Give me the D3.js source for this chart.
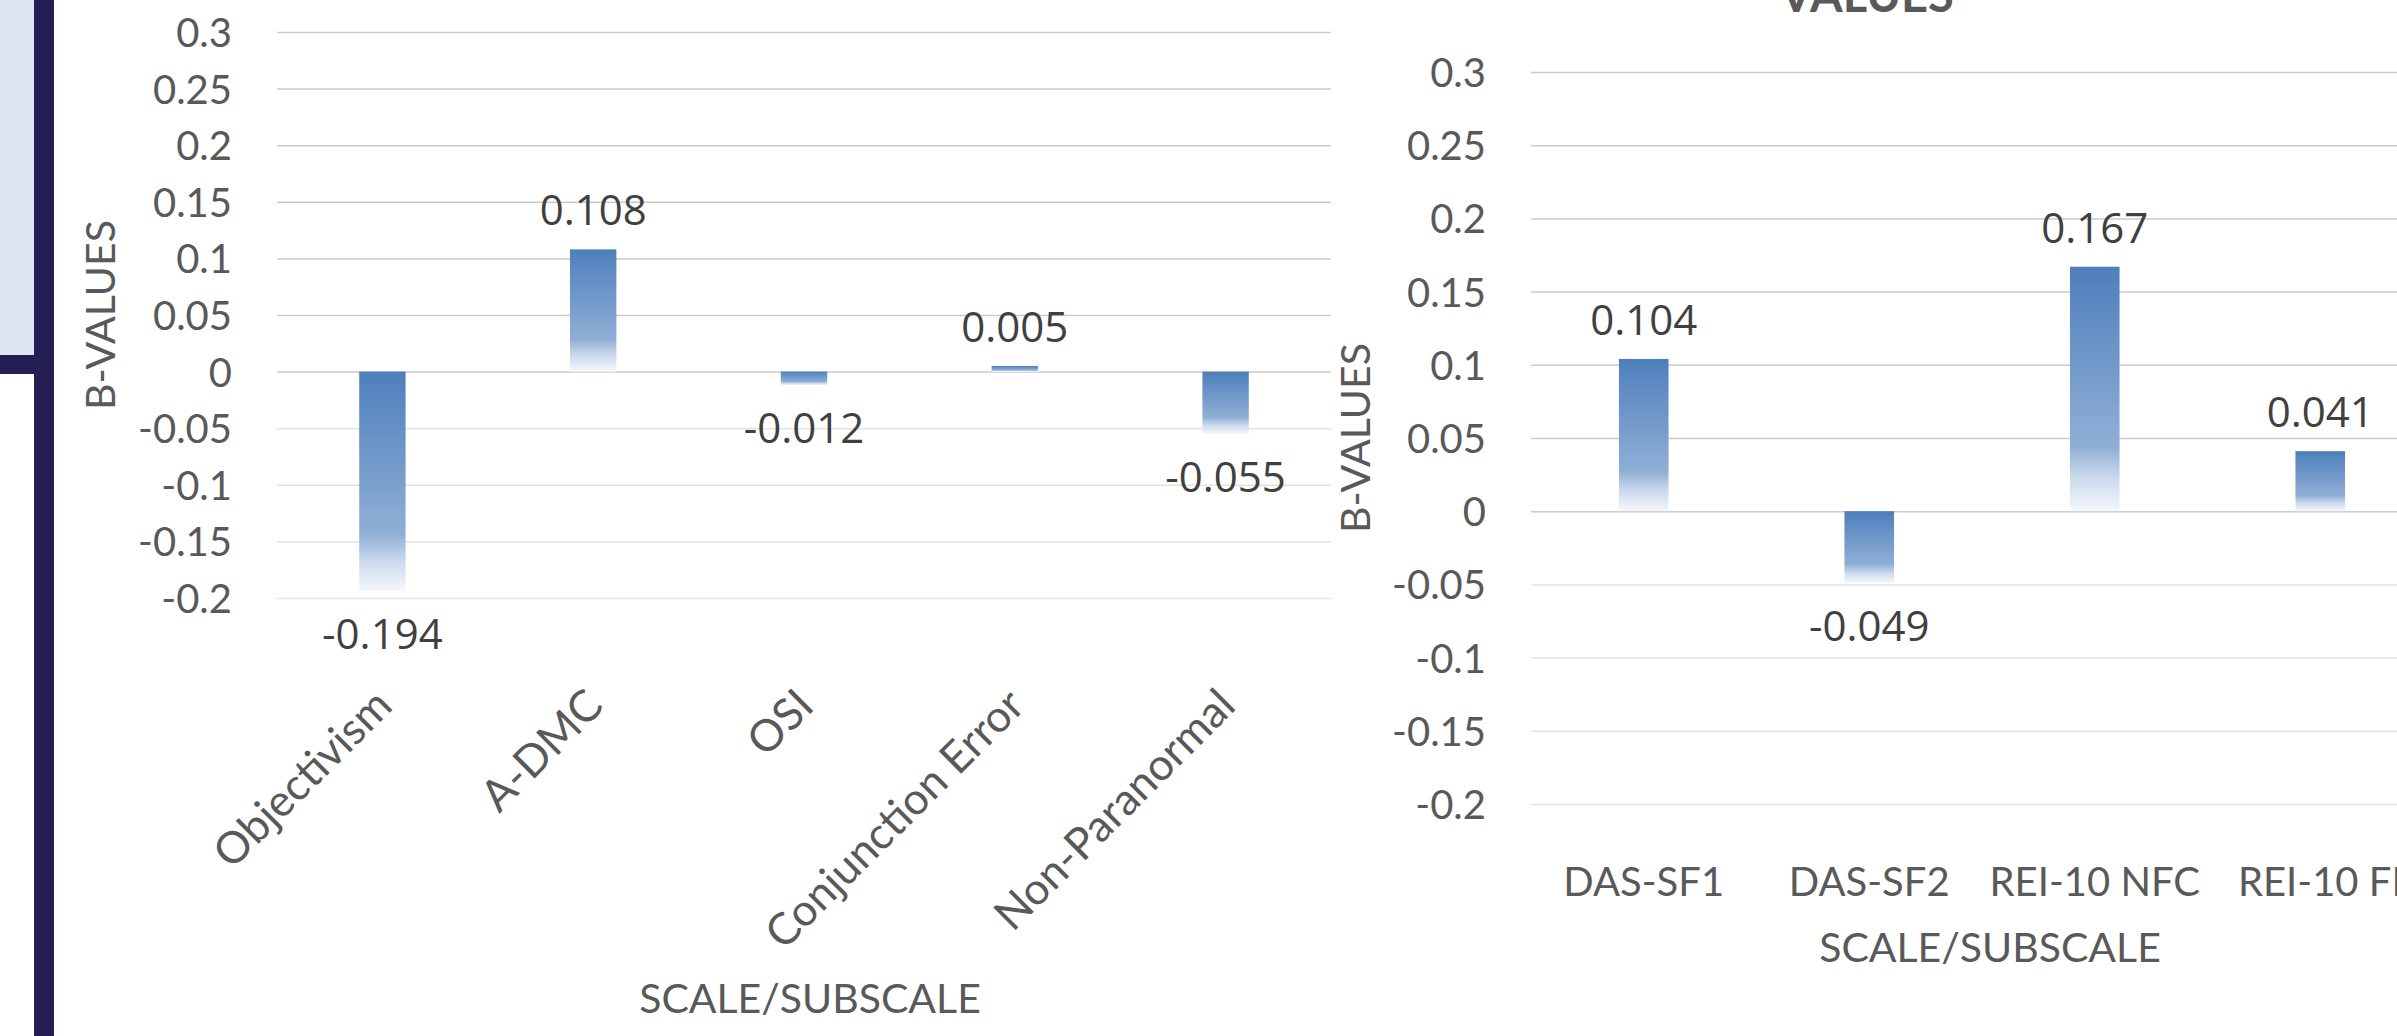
<html>
<head>
<script src="https://d3js.org/d3.v7.min.js"></script>
<style>
  body { margin: 0; background: #fff; }
  .tick text { font-family: Lato, sans-serif; font-size: 40px; fill: #595959; }
  .axis-title { font-family: Lato, sans-serif; font-size: 41px; fill: #595959; }
  .data-label { font-family: "Open Sans", sans-serif; font-size: 42px; fill: #404040; text-anchor: middle; }
</style>
</head>
<body>
<script>

var width = 2397,
    height = 1036;

// left chart
var leftCategories = ["Objectivism", "A-DMC", "OSI", "Conjunction Error", "Non-Paranormal"];
var leftValues = [-0.194, 0.108, -0.012, 0.005, -0.055];

// right chart (cut off at the right edge)
var rightCategories = ["DAS-SF1", "DAS-SF2", "REI-10 NFC", "REI-10 FI"];
var rightValues = [0.104, -0.049, 0.167, 0.041];

var yTicks = [0.3, 0.25, 0.2, 0.15, 0.1, 0.05, 0, -0.05, -0.1, -0.15, -0.2];

var svg = d3.select("body")
  .append("svg")
  .attr("width", width)
  .attr("height", height);

svg.append("rect").attr("width", width).attr("height", height).attr("fill", "#fff");

// gradient used by every bar: solid blue at the top, fading to white at the bottom
var grad = svg.append("defs").append("linearGradient")
  .attr("id", "barGrad")
  .attr("x1", 0).attr("y1", 0).attr("x2", 0).attr("y2", 1);
grad.append("stop").attr("offset", "0%").attr("stop-color", "#4e7fbc");
grad.append("stop").attr("offset", "74%").attr("stop-color", "#90afd6");
grad.append("stop").attr("offset", "86%").attr("stop-color", "#c9d8ec");
grad.append("stop").attr("offset", "100%").attr("stop-color", "#f6f8fc");

// side panel on the far left
svg.append("rect").attr("x", 0).attr("y", 0).attr("width", 34).attr("height", 355).attr("fill", "#dce6f2");
svg.append("rect").attr("x", 34).attr("y", 0).attr("width", 20).attr("height", height).attr("fill", "#231f55");
svg.append("rect").attr("x", 0).attr("y", 355).attr("width", 34).attr("height", 19).attr("fill", "#231f55");

function drawChart(opts) {
  var g = svg.append("g");

  var x = d3.scaleBand()
    .domain(opts.categories)
    .range([opts.x0, opts.x1])
    .paddingInner(0.78)
    .paddingOuter(0.39);

  var y = d3.scaleLinear()
    .domain([-0.2, 0.3])
    .range([opts.yBottom, opts.yTop]);

  var yAxis = g.append("g")
    .attr("transform", "translate(" + opts.x0 + ",0)")
    .call(d3.axisLeft(y)
      .tickValues(yTicks)
      .tickSize(-(opts.x1 - opts.x0))
      .tickPadding(45)
      .tickFormat(function(d){ return String(d); }));
  yAxis.select(".domain").remove();
  yAxis.selectAll(".tick line")
    .attr("stroke", function(d){ return d < 0 ? "#e3e3e3" : "#cbcbcb"; })
    .attr("stroke-width", 1.5);
  yAxis.selectAll(".tick text").attr("dy", "0.36em");

  g.selectAll("rect.bar")
    .data(opts.values)
    .enter()
    .append("rect")
    .attr("class", "bar")
    .attr("x", function(d, i){ return x(opts.categories[i]); })
    .attr("width", x.bandwidth())
    .attr("y", function(d){ return y(Math.max(0, d)); })
    .attr("height", function(d){ return Math.abs(y(d) - y(0)); })
    .attr("fill", "url(#barGrad)");

  g.selectAll("text.data-label")
    .data(opts.values)
    .enter()
    .append("text")
    .attr("class", "data-label")
    .attr("x", function(d, i){ return x(opts.categories[i]) + x.bandwidth() / 2; })
    .attr("y", function(d){ return d >= 0 ? y(d) - 24 : y(d) + 58; })
    .text(function(d){ return String(d); });

  var xAxis = g.append("g")
    .attr("transform", "translate(0," + opts.labelY + ")")
    .call(d3.axisBottom(x).tickSize(0).tickPadding(0));
  xAxis.select(".domain").remove();
  xAxis.selectAll(".tick text").attr("y", 0).attr("dy", 0);
  if (opts.rotate) {
    xAxis.selectAll(".tick text")
      .style("font-size", "44px")
      .attr("text-anchor", "end")
      .attr("transform", "translate(12,0) rotate(-45)");
  }

  g.append("text")
    .attr("class", "axis-title")
    .attr("text-anchor", "middle")
    .attr("transform", "translate(" + opts.yTitleX + "," + (opts.yTop + opts.yBottom) / 2 + ") rotate(-90)")
    .text("B-VALUES");

  g.append("text")
    .attr("class", "axis-title")
    .attr("text-anchor", "middle")
    .attr("x", opts.xTitleX)
    .attr("y", opts.xTitleY)
    .text("SCALE/SUBSCALE");
}

drawChart({
  categories: leftCategories, values: leftValues,
  x0: 277, x1: 1331, yTop: 32, yBottom: 598,
  labelY: 708, rotate: true,
  yTitleX: 115, xTitleX: 810, xTitleY: 1013
});

drawChart({
  categories: rightCategories, values: rightValues,
  x0: 1531, x1: 2433, yTop: 72, yBottom: 804,
  labelY: 896, rotate: false,
  yTitleX: 1370, xTitleX: 1990, xTitleY: 962
});

// title of the right chart, mostly above the visible area
svg.append("text")
  .attr("x", 1867)
  .attr("y", 12)
  .attr("text-anchor", "middle")
  .style("font-family", "Lato, sans-serif")
  .style("font-size", "47px")
  .style("font-weight", "bold")
  .style("fill", "#595959")
  .text("VALUES");

</script>
</body>
</html>
